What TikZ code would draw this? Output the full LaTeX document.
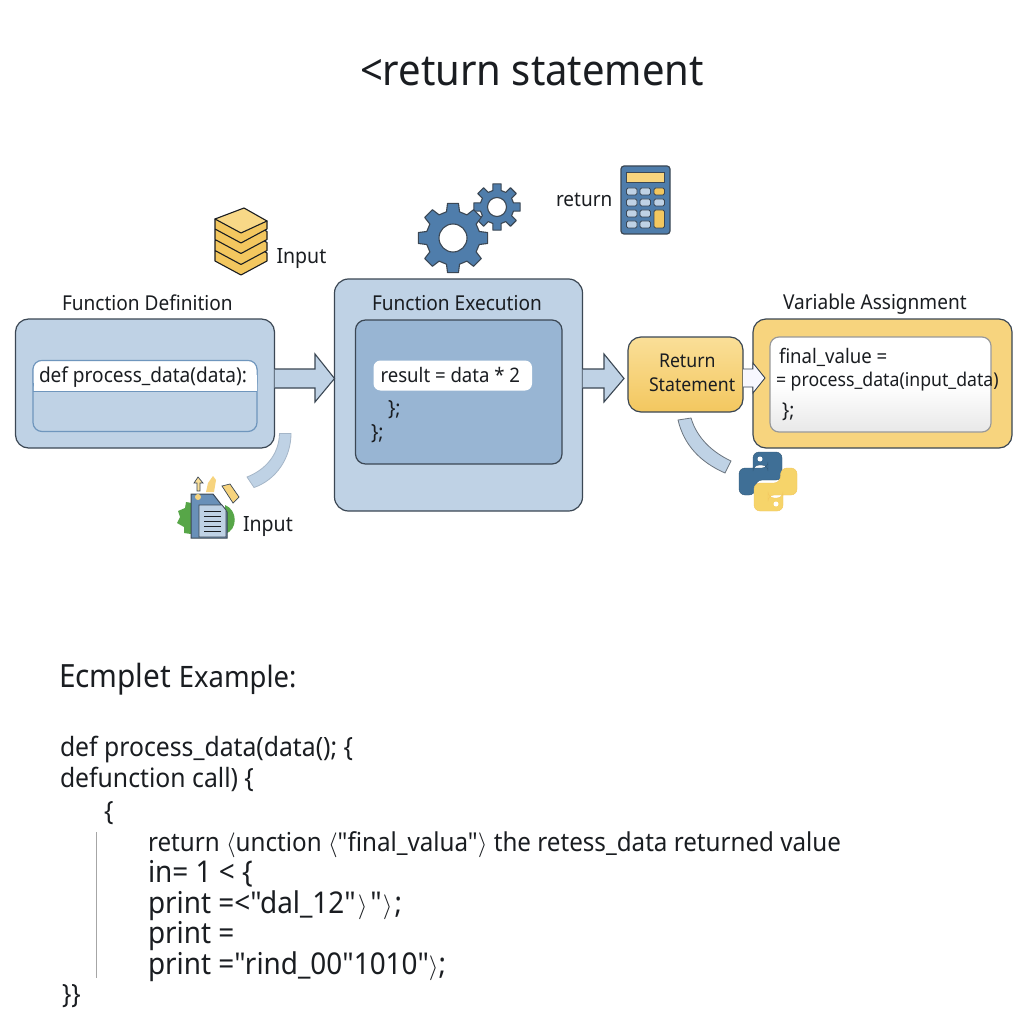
\documentclass[tikz,border=0pt]{standalone}
\usepackage{fontspec}
\setmainfont{Noto Sans}
\newfontfamily\nf[FakeStretch=0.93]{Noto Sans}
\usetikzlibrary{calc}
\definecolor{ink}{HTML}{1A1D21}
\definecolor{edge}{HTML}{3B4754}
\definecolor{paleblue}{HTML}{BFD2E5}
\definecolor{midblue}{HTML}{98B5D3}
\definecolor{innerline}{HTML}{6F96BD}
\definecolor{iconblue}{HTML}{4F7DAB}
\definecolor{gold}{HTML}{F7D47E}
\definecolor{goldlo}{HTML}{F3C75F}
\definecolor{goldhi}{HTML}{FADF98}
\definecolor{pybl}{HTML}{3F6F96}
\definecolor{pyyl}{HTML}{F6D46A}
\definecolor{leaf}{HTML}{57A648}
\newcommand{\fs}[1]{\nf\fontsize{#1}{#1}\selectfont}
\newcommand{\gearicon}[6]{%
  \begin{scope}[shift={(#1,#2)}]
  \draw[gearstyle] ({-14}:{#4})
    \foreach \i in {0,...,7} {
      -- ({\i*45-14}:{#4}) -- ({\i*45-#6}:{#3}) -- ({\i*45+#6}:{#3}) -- ({\i*45+14}:{#4})
    } -- cycle;
  \draw[edge,line width=1.1pt,fill=white] (0,0) circle[radius=#5];
  \end{scope}}
\newcommand{\pysnake}{(753,468) -- (753,452) -- (782,452) -- (782,480) -- (756,480) -- (755,495) -- (739,495) -- (739,468) -- (768,468) -- (768,465) -- (753,465) -- cycle}
\tikzset{
  x=1pt,y=-1pt,
  lbl/.style={anchor=base west,inner sep=0pt,outer sep=0pt,text=ink},
  panel/.style={draw=edge,line width=1.2pt,rounded corners=13pt,inner sep=0pt,outer sep=0pt,anchor=north west},
  blockarrow/.style={draw=edge,line width=1.1pt,fill=paleblue,line join=miter},
  band/.style={draw=#1,line width=0.8pt,fill=paleblue},
  gearstyle/.style={draw=edge,line width=1.1pt,fill=iconblue,line join=round},
  key/.style={draw=edge,line width=0.9pt,rounded corners=1.5pt,fill=#1},
  stackstyle/.style={draw=ink,line width=1.1pt,line join=round,fill=#1},
}
\begin{document}
\begin{tikzpicture}
\useasboundingbox (0,0) rectangle (1024,1024);
\fill[white] (0,0) rectangle (1024,1024);

% title
\node[lbl] (title) at (360,86) {\fs{43}<return statement};

% ---- Function Definition
\node[lbl] (fdeft) at (62,310) {\fs{20.5}Function Definition};
\node[panel,fill=paleblue,minimum width=259pt,minimum height=129pt] (fdef) at (15.5,319) {};
\node[panel,draw=innerline,fill=paleblue,rounded corners=9pt,minimum width=224pt,minimum height=71pt] (fin) at (33,360.5) {};
\path[fill=white,rounded corners=9pt,draw=innerline,line width=1pt] (33,391) -- (33,360.5) -- (257,360.5) -- (257,391) -- cycle;
\path[fill=white] (33.5,375) rectangle (256.5,390.5);
\draw[innerline,line width=1pt] (33,391) -- (257,391);
\node[lbl] (fdefc) at (39,382) {\fs{20.5}def process\_data(data):};

% ---- Function Execution
\node[panel,fill=paleblue,rounded corners=14pt,minimum width=248pt,minimum height=232pt] (fex) at (334.5,279) {};
\node[lbl] (fext) at (372,310) {\fs{20.5}Function Execution};
\node[panel,fill=midblue,rounded corners=10pt,minimum width=206.5pt,minimum height=144pt] (fin2) at (355.5,320) {};
\node[panel,draw=none,fill=white,rounded corners=7pt,minimum width=158.5pt,minimum height=30pt] (pill) at (373.5,360.5) {};
\node[lbl] (pillt) at (380.5,382) {\fs{20}result = data * 2};
\node[lbl] (b1) at (388,415) {\fs{21}\};};
\node[lbl] (b2) at (371,439) {\fs{21}\};};

% ---- Return Statement
\node[panel,bottom color=goldlo,top color=goldhi,minimum width=115pt,minimum height=75pt] (ret) at (628,337) {};
\node[lbl] (rt1) at (659,367) {\fs{19}Return};
\node[lbl] (rt2) at (649,391) {\fs{19}Statement};

% ---- Variable Assignment
\node[lbl] (vart) at (783,309) {\fs{20.5}Variable Assignment};
\node[panel,fill=gold,minimum width=259pt,minimum height=129pt] (var) at (753,319) {};
\node[panel,draw=gray!80,top color=white,bottom color=black!9,middle color=white,rounded corners=9pt,minimum width=221pt,minimum height=95pt] (vin) at (770,337) {};
\node[lbl] (v1) at (779,363) {\fs{20}final\_value =};
\node[lbl] (v2) at (776,386) {\fs{19}= process\_data(input\_data)};
\node[lbl] (v3) at (782,417) {\fs{20.5}\};};

% ---- block arrows
\draw[blockarrow] (fdef.east |- 0,369) -- (315,369) -- (315,354) -- (fex.west |- 0,378.5) -- (315,402) -- (315,388) -- (fdef.east |- 0,388);
\coordinate (tip2) at (624,378.5);
\draw[blockarrow] (fex.east |- 0,369) -- (604,369) -- (604,354) -- (tip2) -- (604,402) -- (604,388) -- (fex.east |- 0,388);
\coordinate (tip3) at (765,378);
\draw[blockarrow,fill=black!12!blue!3!white,line width=0.9pt] (ret.east |- 0,369) -- (753,369) -- (753,363) -- (tip3) -- (753,393) -- (753,387) -- (ret.east |- 0,387);

% ---- curved bands
\draw[band=paleblue!80!edge] (279.5,433.5) -- (291,433.5) .. controls (291,458) and (276,480) .. (254,487.5) -- (247,477) .. controls (265,470) and (279,455) .. (279.5,433.5) -- cycle;
\draw[band=edge!75] (678,420) -- (691,418) .. controls (697,438) and (712,452) .. (731,461) -- (725,473) .. controls (700,462) and (684,445) .. (678,420) -- cycle;

% ---- stack icon
\foreach \d in {32,21.5,10.5} {
  \draw[stackstyle=goldlo] ($(215,219)+(0,\d)$) -- ($(244,208)+(0,\d)$) -- ($(267,221)+(0,\d)$) -- ($(267,229)+(0,\d)$) -- ($(241,243)+(0,\d)$) -- ($(215,229)+(0,\d)$) -- cycle;
}
\draw[stackstyle=goldlo] (215,219) -- (215,229) -- (241,243) -- (267,229) -- (267,221) -- cycle;
\draw[stackstyle=goldhi!70!goldlo] (215,219) -- (244,208) -- (267,221) -- (241,233) -- cycle;
\node[lbl] (inp1) at (276.5,263) {\fs{21}Input};

% ---- document icon
\fill[leaf] (203,501) -- (196,498) -- (192,503) -- (186,502) -- (185,508) -- (178,511) -- (180,517) -- (177,523) -- (184,527) -- (184,533) -- (191,534) -- (203,532) -- cycle;
\fill[leaf] (225,505) .. controls (238,510) and (238,530) .. (225,534) -- cycle;
\draw[draw=edge,line width=0.7pt,fill=goldhi] (197,491) -- (197,483) -- (194,483) -- (198,477) -- (203,483) -- (200,483) -- (200,491) -- cycle;
\draw[draw=edge,line width=0.7pt,fill=gold] (222,486) -- (230,484) -- (239,497) -- (233,503) -- cycle;
\fill[gold] (206,492) -- (208,483) -- (213,476) -- (216,480) -- (214,492) -- cycle;
\draw[edge,line width=1pt,fill=iconblue!85!white] (191,494) -- (213,494) -- (227,512) -- (227,538) -- (191,538) -- cycle;
\draw[edge,line width=0.8pt,fill=paleblue] (199,505) -- (222,505) -- (226,510) -- (226,537) -- (199,537) -- cycle;
\foreach \yy in {511,516,521,526,531} { \draw[ink,line width=0.9pt] (204,\yy) -- (221,\yy); }
\fill[gold] (198,497) circle[radius=3];
\node[lbl] (inp2) at (243,531) {\fs{21}Input};

% ---- gears
\gearicon{497}{207}{23.5}{17}{9.5}{10}
\gearicon{453}{238}{35}{27}{14}{9}

% ---- calculator
\node[lbl] (retl) at (556,207) {\fs{20.4}return};
\draw[edge,line width=1.2pt,fill=iconblue,rounded corners=3pt] (621,166) rectangle (670,234);
\draw[edge,line width=0.8pt,fill=gold] (626,172) rectangle (664,182);
\foreach \yy in {188,199,210,221} {
  \foreach \xx in {626.5,640} { \draw[key=paleblue] (\xx,\yy) rectangle ++(10.5,7); }
}
\draw[key=goldlo] (654,188) rectangle ++(10.5,7);
\draw[key=paleblue] (654,199) rectangle ++(10.5,7);
\draw[key=goldlo] (654,210) rectangle ++(10.5,18);

% ---- python logo
\draw[draw=pybl!80!black,line width=0.4pt,fill=pybl,rounded corners=6pt] \pysnake;
\begin{scope}[rotate around={180:(768,481.5)}]
\draw[draw=goldlo,line width=0.4pt,fill=pyyl,rounded corners=6pt] \pysnake;
\end{scope}
\fill[white] (760,459) circle[radius=2.5];
\fill[white] (776,504) circle[radius=2.5];

% ---- example
\node[lbl] (ex) at (59,687) {\fs{32}Ecmplet \fs{29.5}Example:};
\node[lbl] (c1) at (60,756) {\fs{26.6}def process\_data(data(); \{};
\node[lbl] (c2) at (60,787) {\fs{26.6}defunction call) \{};
\node[lbl] (c3) at (104,820) {\fs{26.6}\{};
\coordinate (ruleA) at (96,832);
\coordinate (ruleB) at (96,978);
\draw[gray!70,line width=1pt] (ruleA) -- (ruleB);
\node[lbl] (c4) at (148,851) {\fs{26}return $\langle$unction $\langle$"final\_valua"$\rangle$ the retess\_data returned value};
\node[lbl] (c5) at (148,882) {\fs{30}in= 1 < \{};
\node[lbl] (c6) at (148,913) {\fs{30}print =<"dal\_12"\kern2pt$\rangle$\kern3pt"\kern1pt$\rangle$\kern2pt;};
\node[lbl] (c7) at (148,943) {\fs{30}print =};
\node[lbl] (c8) at (148,974) {\fs{30}print ="rind\_00"1010"$\rangle$;};
\node[lbl] (c9) at (62,1003) {\fs{26.6}\}\}};
\end{tikzpicture}
\end{document}
